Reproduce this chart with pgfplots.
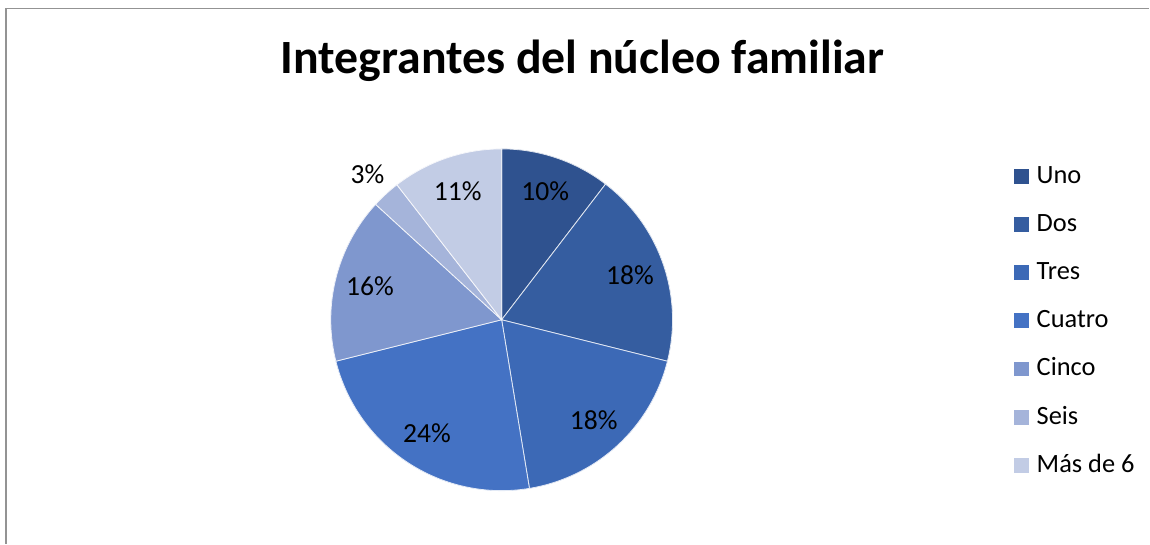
\documentclass[border=0pt]{standalone}
\usepackage{fontspec}
\setmainfont{Carlito}
\usepackage{pgfplots}
\pgfplotsset{compat=1.18}

\definecolor{cUno}{HTML}{2F528F}
\definecolor{cDos}{HTML}{355DA0}
\definecolor{cTres}{HTML}{3C69B6}
\definecolor{cCuatro}{HTML}{4472C4}
\definecolor{cCinco}{HTML}{7F97CE}
\definecolor{cSeis}{HTML}{A5B4DA}
\definecolor{cMas}{HTML}{C2CCE5}

% pie geometry in pixel units of the 1150x544 frame
\def\cx{502}\def\cy{320}\def\rad{171}
\def\cum{0}

% value (percent), colour, legend text, label text, label radius
\newcommand{\slice}[5]{%
  \pgfmathsetmacro\sa{\cum}%
  \pgfmathsetmacro\sb{\cum+#1}%
  \pgfmathsetmacro\mid{90-3.6*(\sa+\sb)/2}%
  \pgfmathsetmacro\lx{\cx+#5*cos(\mid)}%
  \pgfmathsetmacro\ly{\cy-#5*sin(\mid)}%
  \edef\doslice{\noexpand\addplot[fill=#2, draw=white!85!#2, line width=0.4pt,
    domain=\sa:\sb, samples=60, smooth=false]
    ({\cx+\rad*cos(90-3.6*x)},{\cy-\rad*sin(90-3.6*x)}) -- (axis cs:\cx,\cy) -- cycle;}%
  \doslice
  \addlegendentry{#3}
  \edef\dolabel{\noexpand\node[font=\noexpand\fontsize{13.8}{16}\noexpand\selectfont]
    at (axis cs:\lx,\ly) {#4};}%
  \dolabel
  \xdef\cum{\sb}}

\begin{document}
\begin{tikzpicture}
\begin{axis}[
    width=575pt, height=272pt, scale only axis,
    xmin=0, xmax=1150, ymin=0, ymax=544,
    y dir=reverse,
    hide axis, clip=false,
    legend cell align=left,
    legend image code/.code={\path[#1, draw=none] (0pt,-3.7pt) rectangle (7.5pt,3.7pt);},
    legend style={at={(axis cs:1008,158)}, anchor=north west, draw=none, fill=none,
      font=\fontsize{13.2}{15}\selectfont,
      row sep=10.1pt,
      nodes={text height=9.5pt, text depth=2.5pt, inner sep=1pt},
      /tikz/every odd column/.style={column sep=3pt}},
]
\path (rel axis cs:0,0) rectangle (rel axis cs:1,1);
\draw[gray!85, line width=0.8pt] (axis cs:6,544) -- (axis cs:6,8.5) -- (axis cs:1150,8.5);
\node[font=\fontsize{23.9}{28}\selectfont\bfseries] at (axis cs:583,61) {Integrantes del núcleo familiar};

\slice{10.4}{cUno}{Uno}{10\%}{136}
\slice{18.5}{cDos}{Dos}{18\%}{136}
\slice{18.5}{cTres}{Tres}{18\%}{136}
\slice{23.7}{cCuatro}{Cuatro}{24\%}{136}
\slice{15.7}{cCinco}{Cinco}{16\%}{136}
\slice{2.7}{cSeis}{Seis}{3\%}{198}
\slice{10.5}{cMas}{Más de 6}{11\%}{136}
\end{axis}
\end{tikzpicture}
\end{document}
